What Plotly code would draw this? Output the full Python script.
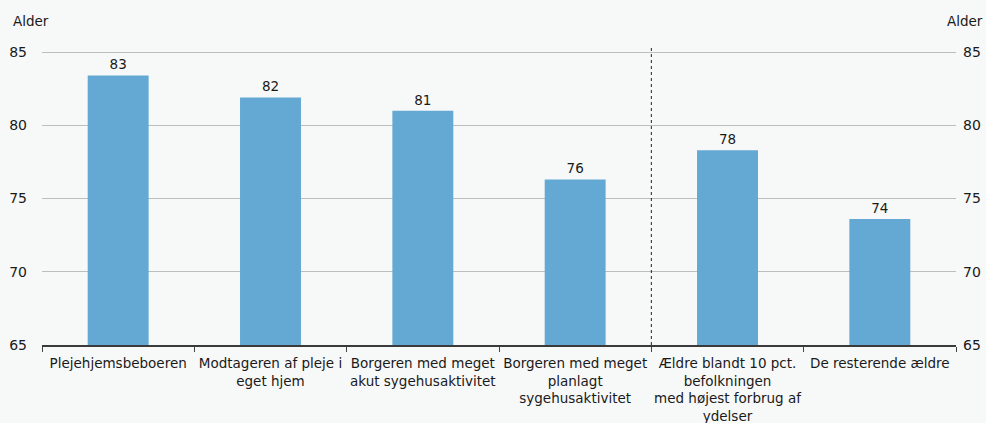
import plotly.graph_objects as go

categories = [
    "Plejehjemsbeboeren",
    "Modtageren af pleje i<br>eget hjem",
    "Borgeren med meget<br>akut sygehusaktivitet",
    "Borgeren med meget<br>planlagt<br>sygehusaktivitet",
    "Ældre blandt 10 pct.<br>befolkningen<br>med højest forbrug af<br>ydelser",
    "De resterende ældre",
]
values = [83.4, 81.9, 81.0, 76.3, 78.3, 73.6]
y_ticks = [65, 70, 75, 80, 85]
axis_title = "Alder"

FONT = "DejaVu Sans, Liberation Sans, Arial, sans-serif"
BAR = "#63a9d4"
BG = "#f7f8f8"
TXT = "#1a1a1a"

fig = go.Figure()
fig.add_trace(go.Bar(
    x=categories, y=values, marker_color=BAR, marker_line_width=0,
    width=0.4, text=[f"{v:.0f}" for v in values], textposition="outside",
    textfont=dict(size=13.5, color=TXT, family=FONT), cliponaxis=False,
    showlegend=False, hoverinfo="skip",
))
fig.add_trace(go.Scatter(
    x=categories, y=values, yaxis="y2", mode="markers",
    marker=dict(opacity=0), showlegend=False, hoverinfo="skip",
))

yr = [65, 85.48]
fig.update_layout(
    width=986, height=423,
    margin=dict(l=42, r=30, t=45, b=78),
    paper_bgcolor=BG, plot_bgcolor=BG,
    font=dict(family=FONT, size=13.5, color=TXT),
    xaxis=dict(
        type="category", tickson="boundaries", ticks="outside", ticklen=5,
        tickcolor="#444", showline=True, linecolor="#3a3a3a", linewidth=1.5,
        showgrid=False, tickangle=0, ticklabelstandoff=5,
        tickfont=dict(size=13.5, family=FONT, color=TXT),
        automargin=False,
    ),
    yaxis=dict(
        range=yr, tickvals=y_ticks, showgrid=True, gridcolor="#bdbdbd",
        gridwidth=1, zeroline=False, ticks="", ticklabelstandoff=14,
        tickfont=dict(size=14, family=FONT, color=TXT), automargin=False,
    ),
    yaxis2=dict(
        range=yr, tickvals=y_ticks, overlaying="y", side="right",
        showgrid=False, zeroline=False, ticks="", ticklabelstandoff=6,
        tickfont=dict(size=14, family=FONT, color=TXT), automargin=False,
    ),
    shapes=[dict(
        type="line", xref="x", yref="y", x0=3.5, x1=3.5, y0=65, y1=yr[1],
        line=dict(color="#222", width=1, dash="dot"),
    )],
    annotations=[
        dict(text=axis_title, xref="paper", yref="paper", x=0, y=1,
             yshift=14, xshift=-31, xanchor="left", yanchor="bottom",
             showarrow=False, font=dict(size=13.5, family=FONT, color=TXT)),
        dict(text=axis_title, xref="paper", yref="paper", x=1, y=1,
             yshift=14, xshift=29, xanchor="right", yanchor="bottom",
             showarrow=False, font=dict(size=13.5, family=FONT, color=TXT)),
    ],
)

fig.write_html(
    "out.html",
    config={"displayModeBar": False},
    post_script="document.body.style.margin='0';document.body.style.padding='0';"
    "document.body.style.overflow='hidden';",
)
